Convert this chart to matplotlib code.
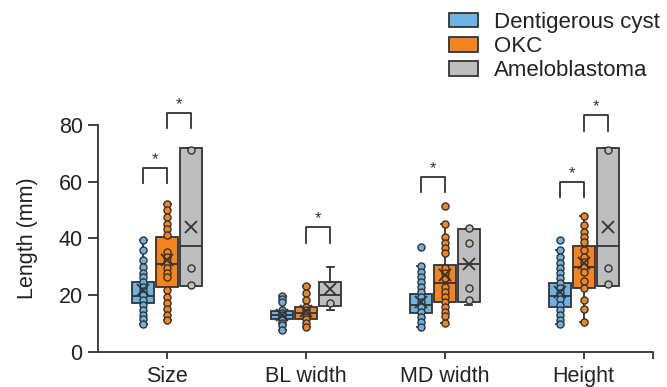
import matplotlib
matplotlib.use("Agg")
import matplotlib.pyplot as plt
from matplotlib.patches import Patch

plt.rcParams['font.family'] = ['Liberation Sans', 'DejaVu Sans']

categories = ['Size', 'BL width', 'MD width', 'Height']
groups = ['Dentigerous cyst', 'OKC', 'Ameloblastoma']
colors = ['#6cb2e2', '#f5841f', '#bcbec0']

# box stats per group, one value per category
dc_q1 = [17.1, 11.4, 13.8, 15.7]
dc_med = [19.8, 12.9, 16.5, 19.7]
dc_q3 = [24.6, 14.5, 20.3, 24.4]
dc_lo = [9.9, 7.7, 8.8, 9.7]
dc_hi = [39.4, 19.7, 30.2, 35.9]
dc_mean = [21.8, 13.0, 17.6, 21.2]

ok_q1 = [22.9, 11.4, 17.6, 22.4]
ok_med = [30.9, 13.5, 24.1, 30.0]
ok_q3 = [40.5, 15.7, 30.6, 37.4]
ok_lo = [11.2, 8.8, 10.0, 10.6]
ok_hi = [52.0, 23.2, 45.1, 47.9]
ok_mean = [32.4, 14.2, 27.0, 31.2]

am_q1 = [23.3, 16.1, 17.6, 23.3]
am_med = [37.4, 19.9, 30.9, 37.4]
am_q3 = [71.8, 24.7, 43.3, 71.8]
am_lo = [23.3, 14.7, 16.5, 23.3]
am_hi = [71.8, 30.0, 43.3, 71.8]
am_mean = [44.1, 22.0, 30.9, 44.1]

# individual points
dc_pts = [
    [39.4, 35.9, 32.4, 30.0, 27.9, 26.2, 24.5, 22.9, 21.4, 20.0, 18.2, 16.5, 14.7, 13.0, 11.4, 9.9],
    [19.7, 18.5, 17.5, 14.7, 13.8, 12.9, 12.0, 11.1, 10.2, 9.4, 7.7],
    [37.0, 30.2, 28.2, 26.5, 24.7, 22.9, 21.2, 19.4, 17.6, 15.9, 14.1, 12.3, 10.6, 8.8],
    [39.4, 35.8, 33.5, 31.4, 29.6, 27.9, 26.1, 24.1, 22.4, 20.6, 18.5, 16.5, 14.7, 12.9, 11.2, 9.7],
]
ok_pts = [
    [52.0, 50.0, 47.4, 45.0, 43.2, 41.2, 35.3, 33.5, 31.8, 29.4, 27.9, 26.2, 21.8, 19.2, 17.1, 15.0, 12.9, 11.2],
    [23.2, 20.6, 18.2, 15.7, 14.8, 13.5, 12.4, 11.4, 10.1, 8.8],
    [51.5, 45.1, 40.4, 38.2, 36.5, 34.7, 29.4, 27.7, 25.9, 22.9, 21.2, 19.4, 17.6, 15.9, 14.1, 12.6, 10.0],
    [47.9, 44.7, 42.3, 40.6, 38.8, 35.9, 33.5, 31.8, 30.0, 28.2, 25.1, 22.4, 18.2, 15.0, 10.6],
]
am_pts = [
    [71.2, 29.6, 23.5],
    [17.1],
    [43.5, 38.5, 22.6, 18.2],
    [71.2, 29.6, 23.8],
]

# significance brackets
sig_cat = [0, 0, 1, 2, 3, 3]
sig_a = [0, 1, 1, 0, 0, 1]
sig_b = [1, 2, 2, 1, 1, 2]
sig_top = [64.9, 84.1, 44.1, 61.7, 60.0, 83.5]
sig_leg = [59.4, 78.8, 38.5, 56.5, 54.5, 78.0]

edge = '#333333'
offset = 0.173
width = 0.158
fs = 15.5

fig = plt.figure(figsize=(6.67, 3.87), dpi=100)
ax = fig.add_axes([0.1469, 0.0912, 0.8321, 0.5858])

stats_all = [
    (dc_q1, dc_med, dc_q3, dc_lo, dc_hi, dc_mean, dc_pts),
    (ok_q1, ok_med, ok_q3, ok_lo, ok_hi, ok_mean, ok_pts),
    (am_q1, am_med, am_q3, am_lo, am_hi, am_mean, am_pts),
]

for g, (q1, med, q3, lo, hi, mean, pts) in enumerate(stats_all):
    pos = [i + (g - 1) * offset for i in range(len(categories))]
    stats = []
    for i in range(len(categories)):
        stats.append(dict(q1=q1[i], med=med[i], q3=q3[i], whislo=lo[i],
                          whishi=hi[i], mean=mean[i], fliers=[]))
    bp = ax.bxp(stats, positions=pos, widths=width, patch_artist=True,
                showmeans=True, showfliers=False, capwidths=0.05,
                boxprops=dict(facecolor=colors[g], edgecolor=edge, linewidth=1.3),
                medianprops=dict(color=edge, linewidth=1.3),
                whiskerprops=dict(color=edge, linewidth=1.3),
                capprops=dict(color=edge, linewidth=1.3),
                meanprops=dict(marker='x', markeredgecolor=edge, markersize=8.5,
                               markeredgewidth=1.3))
    for art in bp['boxes'] + bp['whiskers'] + bp['caps'] + bp['medians']:
        art.set_clip_on(False)
    for i in range(len(categories)):
        ax.scatter([pos[i]] * len(pts[i]), pts[i], s=26, facecolor=colors[g],
                   edgecolor=edge, linewidth=1.0, zorder=3, clip_on=False)
    for m in bp['means']:
        m.set_zorder(4)
        m.set_clip_on(False)

for c, a, b, top, leg in zip(sig_cat, sig_a, sig_b, sig_top, sig_leg):
    xa = c + (a - 1) * offset
    xb = c + (b - 1) * offset
    ax.plot([xa, xa, xb, xb], [leg, top, top, leg], color=edge, lw=1.3,
            clip_on=False)
    ax.text((xa + xb) / 2, top + 0.3, '*', ha='center', va='bottom',
            fontsize=12, color=edge)

ax.set_xlim(-0.5, 3.5)
ax.set_ylim(0, 80)
ax.set_yticks([0, 20, 40, 60, 80])
ax.set_xticks([0, 1, 2, 3, 3.5])
ax.set_xticklabels(categories + [''])
ax.tick_params(axis='both', labelsize=fs, color=edge, labelcolor='#222222',
               width=1.3)
ax.tick_params(axis='x', length=5, pad=5)
ax.tick_params(axis='y', length=7, pad=4)
for s in ['top', 'right']:
    ax.spines[s].set_visible(False)
for s in ['left', 'bottom']:
    ax.spines[s].set_color(edge)
    ax.spines[s].set_linewidth(1.3)
ax.set_ylabel('Length (mm)', fontsize=fs, color='#222222', labelpad=15)

handles = [Patch(facecolor=colors[g], edgecolor=edge, linewidth=1.3)
           for g in range(3)]
fig.legend(handles, groups, loc='upper left', bbox_to_anchor=(0.673, 0.969),
           frameon=False, fontsize=16, borderpad=0, borderaxespad=0,
           labelspacing=0.14, handlelength=1.3, handleheight=0.63,
           handletextpad=0.72, labelcolor='#222222')

fig.savefig('out.png', dpi=100)
